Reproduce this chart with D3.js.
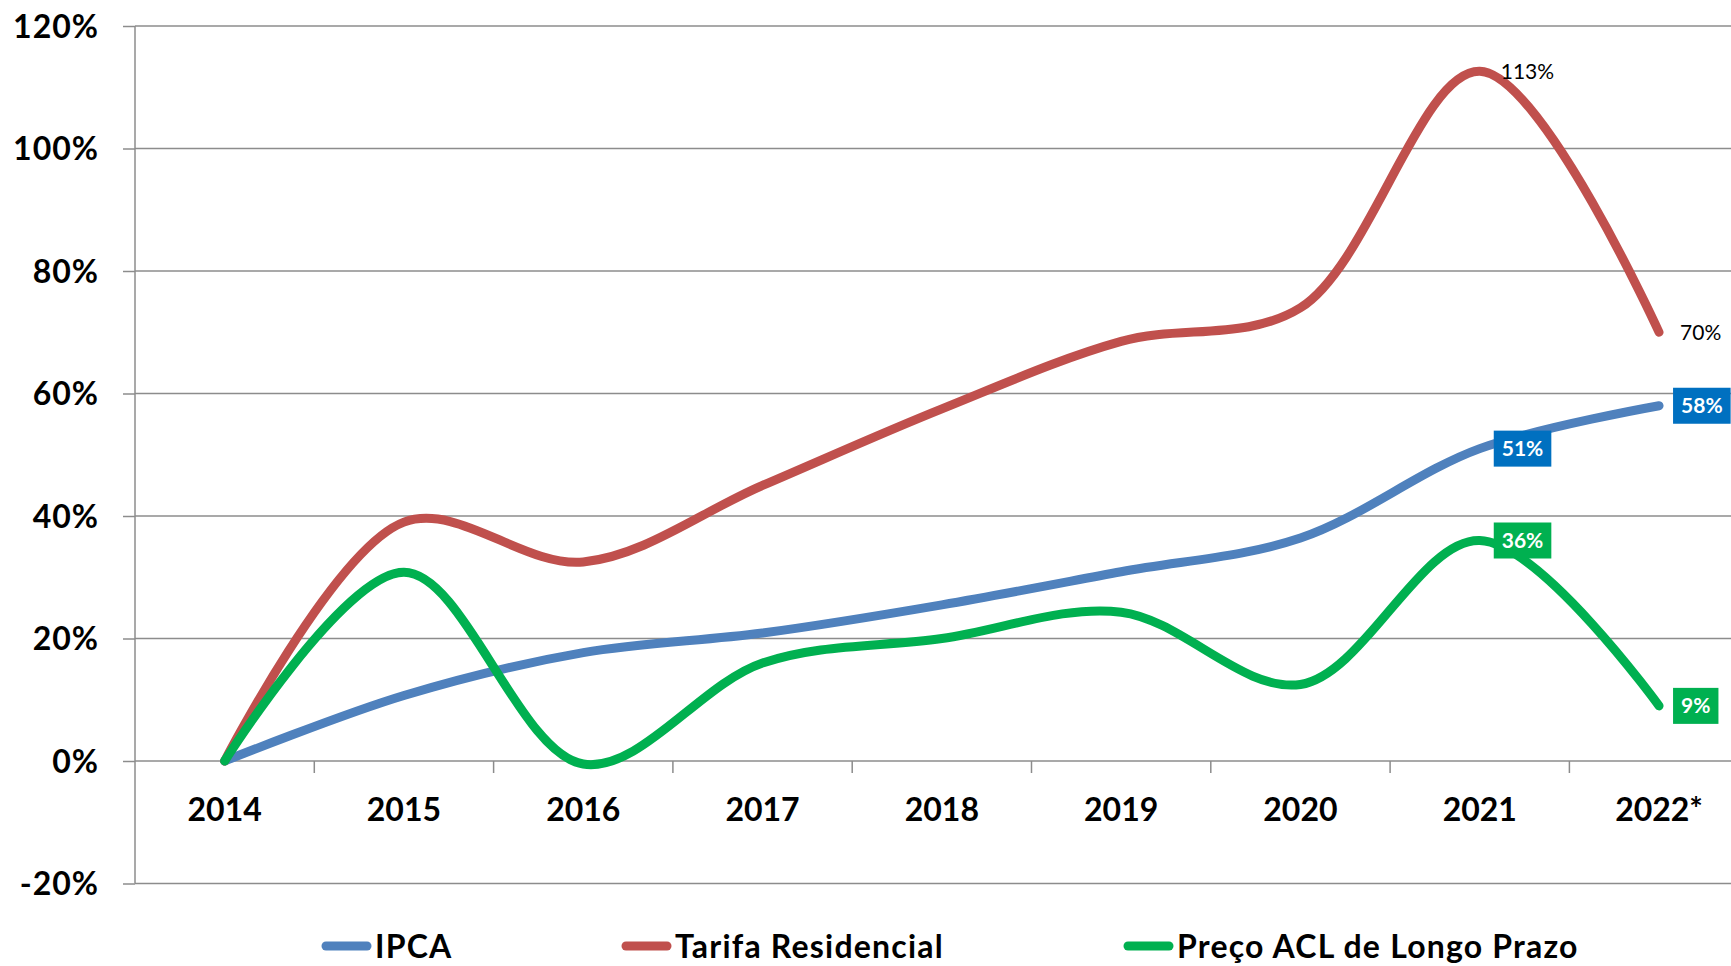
<!DOCTYPE html>
<html>
<head>
<meta charset="utf-8">
<script src="https://cdn.jsdelivr.net/npm/d3@7"></script>
<style>
  body { margin: 0; background: #fff; }
  svg { display: block; font-family: Lato, 'Noto Sans', sans-serif; }
</style>
</head>
<body>
<div id="chart"></div>
<script>
// dados (variacao acumulada desde 2014, %)
const anos = ['2014', '2015', '2016', '2017', '2018', '2019', '2020', '2021', '2022*'];
const ipca = [0, 10.7, 17.7, 20.9, 25.5, 30.9, 36.4, 51, 58];
const tarifa = [0, 39, 32.5, 45, 57.5, 68.5, 74, 112.6, 70];
const precoACL = [0, 30.8, -0.5, 16, 20, 24.3, 12.5, 36, 9];
const yTicks = [-20, 0, 20, 40, 60, 80, 100, 120];

const series = [
  { nome: 'IPCA', valores: ipca, cor: '#4F81BD', caixa: '#0070C0' },
  { nome: 'Tarifa Residencial', valores: tarifa, cor: '#C0504D', caixa: null },
  { nome: 'Preço ACL de Longo Prazo', valores: precoACL, cor: '#00B050', caixa: '#00B050' }
];

const svgWidth = 1731;
const svgHeight = 966;
const axisX = 135;
const band = 179.3;

const svg = d3.select('#chart')
  .append('svg')
  .attr('width', svgWidth)
  .attr('height', svgHeight);

const xScale = d3.scaleBand()
  .domain(anos)
  .range([axisX, axisX + band * anos.length])
  .padding(0);
const xc = d => xScale(d) + xScale.bandwidth() / 2;

const yScale = d3.scaleLinear()
  .domain([-20, 120])
  .range([883.5, 26]);

// linhas de grade horizontais + marcas do eixo Y
svg.append('g')
  .attr('transform', `translate(${axisX},0)`)
  .call(d3.axisLeft(yScale).tickValues(yTicks).tickSize(12).tickFormat(''))
  .call(g => g.select('.domain').remove())
  .call(g => g.selectAll('.tick line').attr('stroke', '#8c8c8c').attr('stroke-width', 1.5));

svg.append('g')
  .selectAll('line')
  .data(yTicks)
  .enter().append('line')
  .attr('x1', axisX)
  .attr('x2', svgWidth)
  .attr('y1', d => yScale(d))
  .attr('y2', d => yScale(d))
  .attr('stroke', '#8c8c8c')
  .attr('stroke-width', 1.5);

// eixo Y vertical
svg.append('line')
  .attr('x1', axisX).attr('x2', axisX)
  .attr('y1', yScale(120)).attr('y2', yScale(-20))
  .attr('stroke', '#8c8c8c')
  .attr('stroke-width', 1.5);

// rotulos do eixo Y
svg.append('g')
  .selectAll('text')
  .data(yTicks)
  .enter().append('text')
  .attr('x', 99)
  .attr('y', d => yScale(d))
  .attr('dy', '0.36em')
  .attr('text-anchor', 'end')
  .style('font-size', '32px')
  .style('font-weight', 'bold')
  .style('letter-spacing', '1px')
  .text(d => d + '%');

// marcas do eixo X (nas divisas das categorias)
svg.append('g')
  .selectAll('line')
  .data(anos.slice(1))
  .enter().append('line')
  .attr('x1', d => xScale(d))
  .attr('x2', d => xScale(d))
  .attr('y1', yScale(0))
  .attr('y2', yScale(0) + 12)
  .attr('stroke', '#8c8c8c')
  .attr('stroke-width', 1.5);

// rotulos do eixo X
svg.append('g')
  .selectAll('text')
  .data(anos)
  .enter().append('text')
  .attr('x', d => xc(d))
  .attr('y', 821)
  .attr('text-anchor', 'middle')
  .style('font-size', '32px')
  .style('font-weight', 'bold')
  .text(d => d);

// linhas suavizadas
const line = d3.line()
  .x((v, i) => xc(anos[i]))
  .y(v => yScale(v))
  .curve(d3.curveCatmullRom.alpha(0.5));

svg.append('g')
  .selectAll('path')
  .data(series)
  .enter().append('path')
  .attr('d', s => line(s.valores))
  .attr('fill', 'none')
  .attr('stroke', s => s.cor)
  .attr('stroke-width', 9)
  .attr('stroke-linecap', 'round')
  .attr('stroke-linejoin', 'round');

// rotulos de dados (2021 e 2022)
series.forEach(s => {
  [7, 8].forEach(i => {
    const v = s.valores[i];
    const px = xc(anos[i]);
    const py = yScale(v);
    const g = svg.append('g');
    if (s.caixa) {
      const t = g.append('text')
        .attr('x', px + 22)
        .attr('y', py)
        .attr('dy', '0.36em')
        .attr('fill', '#fff')
        .style('font-size', '21px')
        .style('font-weight', 'bold')
        .text(Math.round(v) + '%');
      const w = t.node().getComputedTextLength();
      g.insert('rect', 'text')
        .attr('x', px + 14)
        .attr('y', py - 18)
        .attr('width', w + 16)
        .attr('height', 36)
        .attr('fill', s.caixa);
    } else {
      g.append('text')
        .attr('x', px + 21)
        .attr('y', py)
        .attr('dy', '0.36em')
        .attr('fill', '#000')
        .style('font-size', '21px')
        .text(Math.round(v) + '%');
    }
  });
});

// legenda
const legendX = [322, 622, 1124];
const leg = svg.append('g')
  .selectAll('g')
  .data(series)
  .enter().append('g')
  .attr('transform', (d, i) => `translate(${legendX[i]},946)`);

leg.append('line')
  .attr('x1', 4).attr('x2', 45)
  .attr('y1', 0).attr('y2', 0)
  .attr('stroke', d => d.cor)
  .attr('stroke-width', 9)
  .attr('stroke-linecap', 'round');

leg.append('text')
  .attr('x', 53)
  .attr('y', 0)
  .attr('dy', '0.36em')
  .style('font-size', '32px')
  .style('font-weight', 'bold')
  .style('letter-spacing', '1.2px')
  .text(d => d.nome);
</script>
</body>
</html>
